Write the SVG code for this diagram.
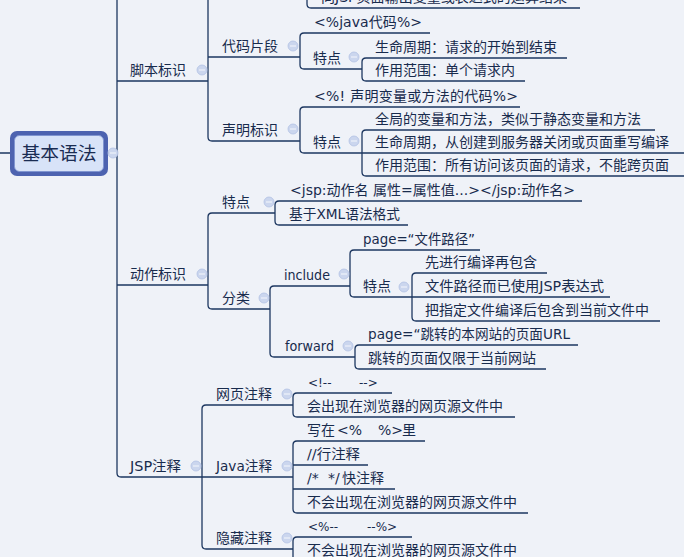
<svg xmlns="http://www.w3.org/2000/svg" width="684" height="557" viewBox="0 0 684 557">
<style>
.bg{fill:#eff2f8}
.ln{fill:none;stroke:#1d3760;stroke-width:1.3;stroke-linejoin:round}
text{font-family:"DejaVu Sans","Noto Sans CJK SC",sans-serif;font-size:14px;fill:#182b4d}
.cj{font-family:"Noto Sans CJK SC",sans-serif}
.sm{font-size:12px}
.root{font-size:18px;font-family:"Noto Sans CJK SC",sans-serif;text-anchor:middle;fill:#1a2c52}
.ic{fill:#cbd6ee;stroke:#b3c2e3;stroke-width:0.8}
.icm{stroke:#eef2fa;stroke-width:1.2}
</style>
<defs>
<g id="icon"><circle class="ic" cx="0" cy="0" r="5"/><line class="icm" x1="-3" y1="0" x2="3" y2="0"/></g>
</defs>
<rect class="bg" x="0" y="0" width="684" height="557"/>
<g id="connectors">
<path class="ln" d="M0,153 H10 M108,153 H117"/>
<path class="ln" d="M117,-5 V473 Q117,477 121,477 H293"/>
<path class="ln" d="M117,81 H208 M117,285 H208"/>
<path class="ln" d="M208,-5 V137 Q208,141 212,141 H300 M208,57 H300"/>
<path class="ln" d="M307,-5 V4 Q307,8 311,8 H580"/>
<path class="ln" d="M430,33 H304 Q300,33 300,37 V65 Q300,69 304,69 H362"/>
<path class="ln" d="M567,58 H366 Q362,58 362,62 V77 Q362,81 366,81 H525"/>
<path class="ln" d="M520,107 H304 Q300,107 300,111 V149 Q300,153 304,153 H362"/>
<path class="ln" d="M655,130 H366 Q362,130 362,134 V172 Q362,176 366,176 H684 M362,153 H684"/>
<path class="ln" d="M275,213 H212 Q208,213 208,217 V305 Q208,309 212,309 H270"/>
<path class="ln" d="M582,201 H279 Q275,201 275,205 V221 Q275,225 279,225 H408"/>
<path class="ln" d="M350,286 H274 Q270,286 270,290 V353 Q270,357 274,357 H355"/>
<path class="ln" d="M480,250 H354 Q350,250 350,254 V293 Q350,297 354,297 H412"/>
<path class="ln" d="M547,273 H416 Q412,273 412,277 V317 Q412,321 416,321 H660 M412,297 H610"/>
<path class="ln" d="M578,345 H359 Q355,345 355,349 V365 Q355,369 359,369 H546"/>
<path class="ln" d="M293,405 H206 Q202,405 202,409 V545 Q202,549 206,549 H293"/>
<path class="ln" d="M392,393 H297 Q293,393 293,397 V413 Q293,417 297,417 H515"/>
<path class="ln" d="M425,441 H297 Q293,441 293,445 V509 Q293,513 297,513 H528 M293,465 H368 M293,489 H395"/>
<path class="ln" d="M412,537 H297 Q293,537 293,541 V565"/>
</g>
<g id="n-root">
<rect x="10" y="131" width="98" height="45" rx="7" fill="#4d63b0"/>
<rect x="14.5" y="135.5" width="89" height="36" rx="5" fill="#d8e3f8" stroke="#8095d0" stroke-width="1"/>
<text class="root" x="59" y="159.5" textLength="75" lengthAdjust="spacingAndGlyphs">基本语法</text>
<use href="#icon" x="113" y="153"/>
</g>
<g id="n-top"><text x="321" y="2" textLength="246" lengthAdjust="spacingAndGlyphs">向JSP页面输出变量或表达式的运算结果</text></g>
<g id="n-jiaoben"><text class="cj" x="130" y="75">脚本标识</text><use href="#icon" x="202" y="70"/></g>
<g id="n-daima"><text class="cj" x="222" y="51">代码片段</text><use href="#icon" x="293" y="46"/></g>
<g id="n-daima-code"><text x="314" y="27" textLength="108" lengthAdjust="spacing">&lt;%java代码%&gt;</text></g>
<g id="n-daima-td"><text class="cj" x="313" y="63">特点</text><use href="#icon" x="354" y="57"/></g>
<g id="n-daima-td1"><text class="cj" x="375" y="52">生命周期：请求的开始到结束</text></g>
<g id="n-daima-td2"><text class="cj" x="375" y="75">作用范围：单个请求内</text></g>
<g id="n-shengming"><text class="cj" x="222" y="135">声明标识</text><use href="#icon" x="293" y="129"/></g>
<g id="n-sm-code"><text x="314" y="101" textLength="204" lengthAdjust="spacing">&lt;%! 声明变量或方法的代码%&gt;</text></g>
<g id="n-sm-td"><text class="cj" x="313" y="147">特点</text><use href="#icon" x="354" y="141"/></g>
<g id="n-sm-td1"><text class="cj" x="375" y="124">全局的变量和方法，类似于静态变量和方法</text></g>
<g id="n-sm-td2"><text class="cj" x="375" y="147">生命周期，从创建到服务器关闭或页面重写编译</text></g>
<g id="n-sm-td3"><text class="cj" x="375" y="170">作用范围：所有访问该页面的请求，不能跨页面</text></g>
<g id="n-dongzuo"><text class="cj" x="130" y="279">动作标识</text><use href="#icon" x="202" y="274"/></g>
<g id="n-dz-td"><text class="cj" x="222" y="207">特点</text><use href="#icon" x="269" y="202"/></g>
<g id="n-dz-td1"><text x="290" y="195" textLength="285" lengthAdjust="spacing">&lt;jsp:动作名 属性=属性值...&gt;&lt;/jsp:动作名&gt;</text></g>
<g id="n-dz-td2"><text x="289" y="219" textLength="111" lengthAdjust="spacingAndGlyphs">基于XML语法格式</text></g>
<g id="n-fenlei"><text class="cj" x="222" y="303">分类</text><use href="#icon" x="264" y="298"/></g>
<g id="n-include"><text x="284" y="280" textLength="46" lengthAdjust="spacingAndGlyphs">include</text><use href="#icon" x="344" y="274"/></g>
<g id="n-inc-page"><text x="363" y="244" textLength="112" lengthAdjust="spacingAndGlyphs">page=“文件路径”</text></g>
<g id="n-inc-td"><text class="cj" x="363" y="291">特点</text><use href="#icon" x="404" y="287"/></g>
<g id="n-inc-td1"><text class="cj" x="425" y="267">先进行编译再包含</text></g>
<g id="n-inc-td2"><text x="425" y="291" textLength="179" lengthAdjust="spacingAndGlyphs">文件路径而已使用JSP表达式</text></g>
<g id="n-inc-td3"><text class="cj" x="425" y="315">把指定文件编译后包含到当前文件中</text></g>
<g id="n-forward"><text x="285" y="351" textLength="49" lengthAdjust="spacingAndGlyphs">forward</text><use href="#icon" x="348" y="346"/></g>
<g id="n-fw-page"><text x="368" y="339" textLength="202" lengthAdjust="spacingAndGlyphs">page=“跳转的本网站的页面URL</text></g>
<g id="n-fw-2"><text class="cj" x="368" y="363">跳转的页面仅限于当前网站</text></g>
<g id="n-jspzs"><text x="130" y="471" textLength="51" lengthAdjust="spacingAndGlyphs">JSP注释</text><use href="#icon" x="196" y="466"/></g>
<g id="n-wangye"><text class="cj" x="216" y="399">网页注释</text><use href="#icon" x="287" y="394"/></g>
<g id="n-wy-1"><text class="sm" x="308" y="387" xml:space="preserve"><tspan x="308">&lt;!--</tspan><tspan x="359">--&gt;</tspan></text></g>
<g id="n-wy-2"><text class="cj" x="307" y="411">会出现在浏览器的网页源文件中</text></g>
<g id="n-java"><text x="216" y="471" textLength="56" lengthAdjust="spacingAndGlyphs">Java注释</text><use href="#icon" x="287" y="466"/></g>
<g id="n-java-1"><text x="307" y="435"><tspan x="307" class="cj">写在</tspan><tspan x="337">&lt;%</tspan><tspan x="378">%&gt;</tspan><tspan x="402" class="cj">里</tspan></text></g>
<g id="n-java-2"><text x="307" y="459" textLength="53" lengthAdjust="spacingAndGlyphs">//行注释</text></g>
<g id="n-java-3"><text x="307" y="483"><tspan x="307">/*</tspan><tspan x="328">*/</tspan><tspan x="342" class="cj">快注释</tspan></text></g>
<g id="n-java-4"><text class="cj" x="307" y="507">不会出现在浏览器的网页源文件中</text></g>
<g id="n-yincang"><text class="cj" x="216" y="543">隐藏注释</text><use href="#icon" x="287" y="538"/></g>
<g id="n-yc-1"><text class="sm" x="308" y="531"><tspan x="308">&lt;%--</tspan><tspan x="367">--%&gt;</tspan></text></g>
<g id="n-yc-2"><text class="cj" x="307" y="555">不会出现在浏览器的网页源文件中</text></g>
</svg>
